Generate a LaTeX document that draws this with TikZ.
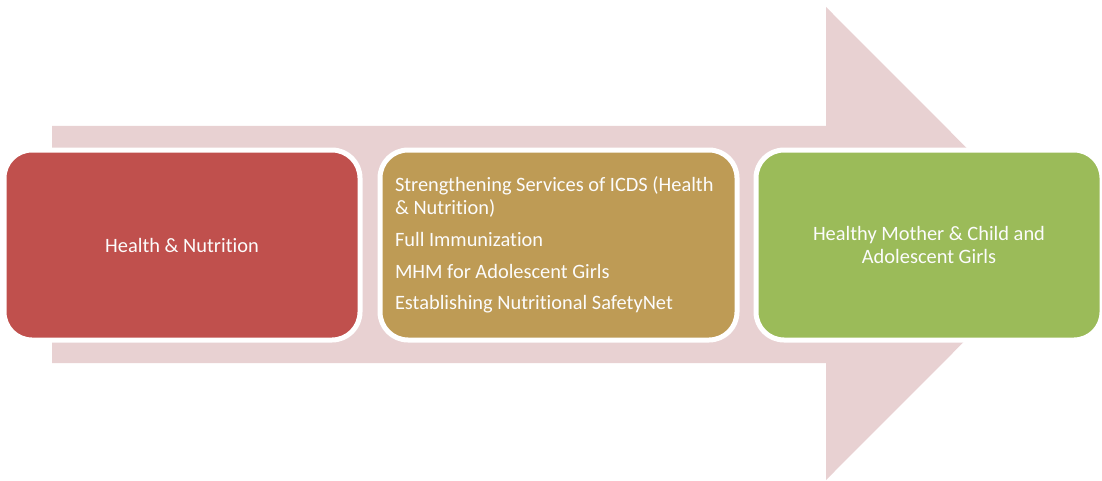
\documentclass[tikz,border=0pt]{standalone}
\usepackage{fontspec}
\setmainfont[Ligatures={NoCommon}]{Carlito}
\definecolor{arrowpink}{HTML}{E8D1D2}
\definecolor{boxred}{HTML}{C0504D}
\definecolor{boxgold}{HTML}{BE9B55}
\definecolor{boxgreen}{HTML}{9BBB59}
\definecolor{txt}{HTML}{FCFCFC}
\tikzset{
  stagebox/.style={rounded corners=14pt, draw=white, line width=2.5pt,
    minimum height=95pt, text=txt, font=\fontsize{10.2}{11.5}\selectfont},
}
\begin{document}
\begin{tikzpicture}[x=0.5pt,y=-0.5pt]
\useasboundingbox (0,0) rectangle (1102,481);
\fill[arrowpink] (52,126) -- (826,126) -- (826,7) -- (1062,243.5) -- (826,480) -- (826,363) -- (52,363) -- cycle;
\node[stagebox, fill=boxred, minimum width=178pt] (hn) at (182,245) {Health \& Nutrition};
\node[stagebox, fill=boxgold, minimum width=178.5pt, inner xsep=7.5pt, text width=163.5pt, align=flush left] (icds) at (558.5,245)
 {Strengthening Services of ICDS (Health\\ \& Nutrition)\\[4.4pt]
  Full Immunization\\[4.4pt]
  MHM for Adolescent Girls\\[4.4pt]
  Establishing Nutritional SafetyNet};
\node[stagebox, fill=boxgreen, minimum width=173pt, align=flush center] (out) at (929,245)
 {Healthy Mother \& Child and\\ Adolescent Girls};
\end{tikzpicture}
\end{document}
